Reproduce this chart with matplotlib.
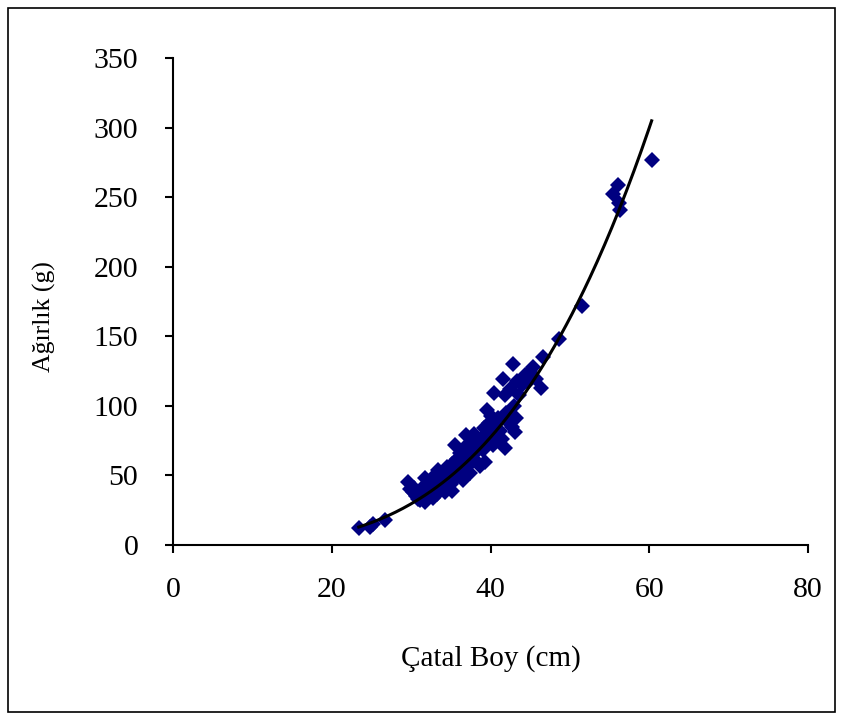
import numpy as np
import matplotlib.pyplot as plt
from matplotlib.patches import Rectangle

# fork length (cm) and weight (g)
boy = [23.4, 24.8, 25.2, 26.7,
       29.6, 29.9, 30.2, 30.4, 30.6, 30.9, 31.1, 31.3, 31.5, 31.7, 31.8, 32.0,
       32.2, 32.4, 32.5, 32.7, 32.9, 33.0, 33.2, 33.4, 33.5, 33.7, 33.9, 34.0,
       34.2, 34.3, 34.5, 34.6, 34.8, 35.0, 35.1, 35.2, 35.3, 35.5, 35.6, 35.8,
       35.9, 36.0, 36.2, 36.3, 36.5, 36.6, 36.8, 36.9, 37.0, 37.2, 37.4, 37.5,
       37.7, 37.9, 38.0, 38.3, 38.5, 38.7, 38.8, 39.0, 39.2, 39.3, 39.5, 39.6,
       39.8, 40.0, 40.1, 40.3, 40.4, 40.6, 40.8, 41.0, 41.2, 41.5, 41.6, 41.8,
       41.8, 42.0, 42.3, 42.5, 42.7, 42.8, 43.0, 43.1, 43.2, 43.4, 43.6, 44.0,
       44.3, 44.7, 45.0, 45.4, 45.7, 46.3, 46.6, 48.6, 51.5, 55.4, 56.0, 56.3,
       56.2, 60.3]
agirlik = [12, 13, 15, 18,
           45, 40, 38, 41, 35, 33, 32, 37, 42, 48, 31, 36,
           44, 39, 47, 34, 42, 50, 37, 54, 45, 40, 48, 52,
           43, 38, 56, 47, 50, 44, 39, 58, 53, 72, 48, 62,
           55, 51, 66, 58, 47, 70, 63, 79, 56, 68, 52, 74,
           61, 80, 66, 72, 58, 57, 76, 68, 84, 60, 97, 75,
           88, 80, 93, 72, 109, 86, 78, 91, 82, 76, 119, 108,
           70, 95, 88, 112, 85, 130, 100, 81, 91, 118, 108, 115,
           122, 117, 125, 128, 119, 113, 135, 148, 172, 252, 259, 241,
           246, 277]

# power trend line W = a * L^b
a_coef = 3.45e-4
b_coef = 3.34

fig = plt.figure(figsize=(8.43, 7.2), dpi=100)
plt.rcParams['font.family'] = ['Liberation Serif', 'DejaVu Serif']

fig.patches.append(Rectangle((8 / 843, 8 / 720), 827 / 843, 704 / 720,
                             transform=fig.transFigure, fill=False,
                             edgecolor='black', linewidth=1.2))

ax = fig.add_axes([173 / 843, 1 - 545 / 720, 635 / 843, 487 / 720])

ax.plot(boy, agirlik, linestyle='none', marker='D', ms=8.5,
        color='#000080', markeredgewidth=0)

lx = np.linspace(min(boy), max(boy), 200)
ax.plot(lx, a_coef * lx ** b_coef, color='black', lw=2.2)

ax.set_xlim(0, 80)
ax.set_ylim(0, 350)
ax.set_xticks(range(0, 81, 20))
ax.set_yticks(range(0, 351, 50))
ax.spines['top'].set_visible(False)
ax.spines['right'].set_visible(False)
ax.spines['left'].set_linewidth(1.5)
ax.spines['bottom'].set_linewidth(1.5)
ax.tick_params(direction='out', length=6, width=1.5, labelsize=21.5)
ax.tick_params(axis='x', pad=17)
ax.tick_params(axis='y', pad=19)

ax.set_xlabel('Çatal Boy (cm)', fontsize=21, labelpad=30)
ax.set_ylabel('Ağırlık (g)', fontsize=18.5)
ax.yaxis.set_label_coords(-0.184, 0.47)

fig.savefig('out.png', dpi=100)
